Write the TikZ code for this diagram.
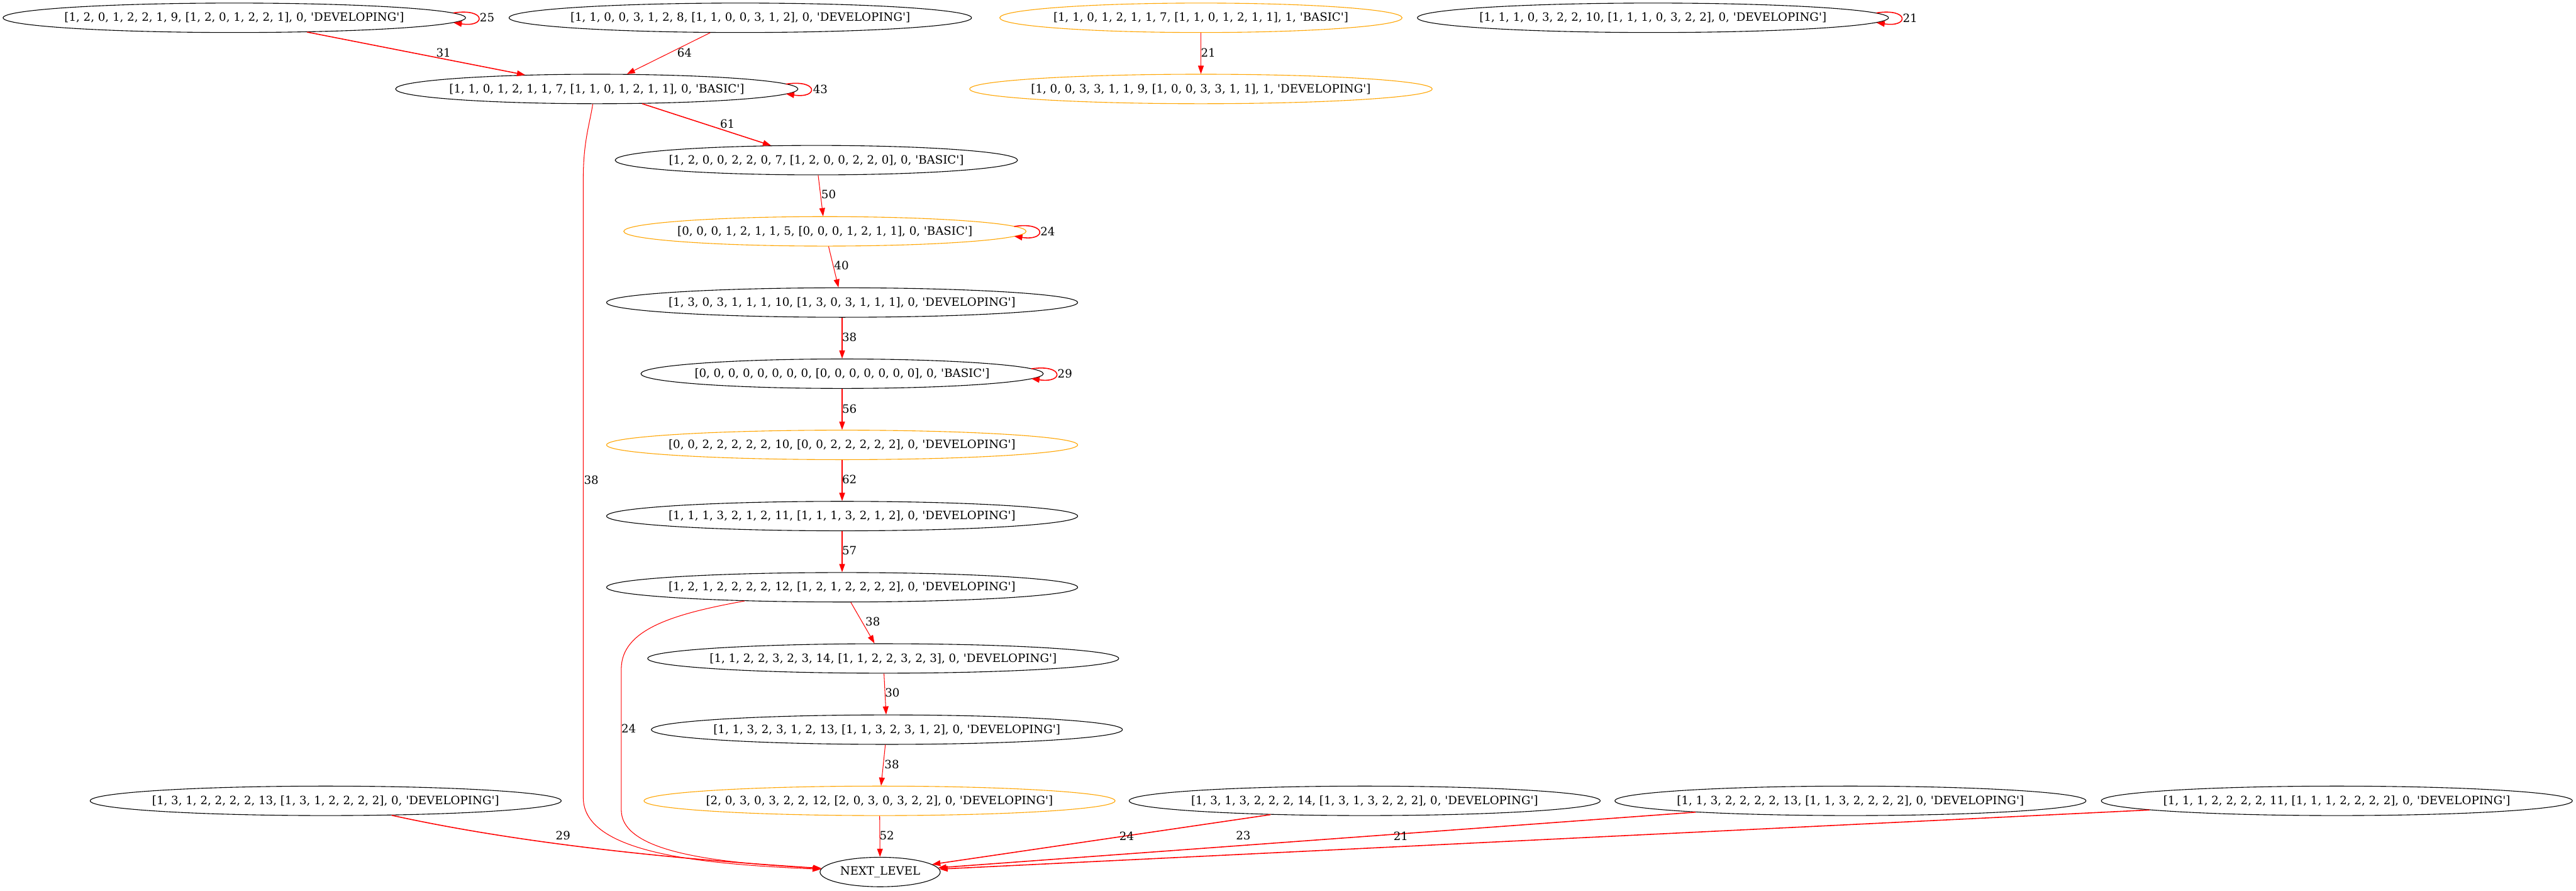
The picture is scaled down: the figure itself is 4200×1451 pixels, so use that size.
\documentclass[tikz,border=0pt]{standalone}
\usepackage{fontspec}
\setmainfont{DejaVu Serif}
\usetikzlibrary{arrows.meta,shapes.geometric}
\definecolor{gvorange}{HTML}{FFA500}
\definecolor{gvred}{HTML}{FF0000}
\newcommand{\gvf}{\fontsize{14}{16.8}\selectfont}
\newcommand{\sq}{\textquotesingle}
\begin{document}
\begin{tikzpicture}[x=0.75pt,y=-0.75pt,
  gv/.style={draw=black, line width=0.85pt, ellipse, inner sep=0pt, minimum height=36pt},
  wA/.style={minimum width=565.5pt},
  wB/.style={minimum width=492pt},
  wC/.style={minimum width=576pt},
  orng/.style={draw=gvorange},
  every label/.style={font=\gvf, inner sep=0pt},
  lbl/.style={font=\gvf, inner sep=0pt},
  gvthin/.style={draw=gvred, line width=0.8pt, -{Triangle[length=10pt,width=7pt]}},
  gvthick/.style={draw=gvred, line width=1.2pt, -{Triangle[length=10pt,width=7pt]}}
]
\fill[white] (0,0) rectangle (4200,1451);
\useasboundingbox (0,0) rectangle (4200,1451);

% nodes
\node[gv,wA,label={center:{[1, 2, 0, 1, 2, 2, 1, 9, [1, 2, 0, 1, 2, 2, 1], 0, \sq DEVELOPING\sq]}}] (A) at (382,29) {};
\node[gv,wA,label={center:{[1, 1, 0, 0, 3, 1, 2, 8, [1, 1, 0, 0, 3, 1, 2], 0, \sq DEVELOPING\sq]}}] (B) at (1207,29) {};
\node[gv,wB,orng,label={center:{[1, 1, 0, 1, 2, 1, 1, 7, [1, 1, 0, 1, 2, 1, 1], 1, \sq BASIC\sq]}}] (C) at (1958,29) {};
\node[gv,wA,orng,label={center:{[1, 0, 0, 3, 3, 1, 1, 9, [1, 0, 0, 3, 3, 1, 1], 1, \sq DEVELOPING\sq]}}] (D) at (1958,145) {};
\node[gv,wC,label={center:{[1, 1, 1, 0, 3, 2, 2, 10, [1, 1, 1, 0, 3, 2, 2], 0, \sq DEVELOPING\sq]}}] (E) at (2695,29) {};
\node[gv,wB,label={center:{[1, 1, 0, 1, 2, 1, 1, 7, [1, 1, 0, 1, 2, 1, 1], 0, \sq BASIC\sq]}}] (F) at (973,145) {};
\node[gv,wB,label={center:{[1, 2, 0, 0, 2, 2, 0, 7, [1, 2, 0, 0, 2, 2, 0], 0, \sq BASIC\sq]}}] (G) at (1331,261) {};
\node[gv,wB,orng,label={center:{[0, 0, 0, 1, 2, 1, 1, 5, [0, 0, 0, 1, 2, 1, 1], 0, \sq BASIC\sq]}}] (H) at (1345,377) {};
\node[gv,wC,label={center:{[1, 3, 0, 3, 1, 1, 1, 10, [1, 3, 0, 3, 1, 1, 1], 0, \sq DEVELOPING\sq]}}] (I) at (1373,493) {};
\node[gv,wB,label={center:{[0, 0, 0, 0, 0, 0, 0, 0, [0, 0, 0, 0, 0, 0, 0], 0, \sq BASIC\sq]}}] (J) at (1373,609) {};
\node[gv,wC,orng,label={center:{[0, 0, 2, 2, 2, 2, 2, 10, [0, 0, 2, 2, 2, 2, 2], 0, \sq DEVELOPING\sq]}}] (K) at (1373,725) {};
\node[gv,wC,label={center:{[1, 1, 1, 3, 2, 1, 2, 11, [1, 1, 1, 3, 2, 1, 2], 0, \sq DEVELOPING\sq]}}] (L) at (1373,841) {};
\node[gv,wC,label={center:{[1, 2, 1, 2, 2, 2, 2, 12, [1, 2, 1, 2, 2, 2, 2], 0, \sq DEVELOPING\sq]}}] (M) at (1373,957) {};
\node[gv,wC,label={center:{[1, 1, 2, 2, 3, 2, 3, 14, [1, 1, 2, 2, 3, 2, 3], 0, \sq DEVELOPING\sq]}}] (N) at (1440,1073) {};
\node[gv,wC,label={center:{[1, 1, 3, 2, 3, 1, 2, 13, [1, 1, 3, 2, 3, 1, 2], 0, \sq DEVELOPING\sq]}}] (O) at (1446,1189) {};
\node[gv,wC,orng,label={center:{[2, 0, 3, 0, 3, 2, 2, 12, [2, 0, 3, 0, 3, 2, 2], 0, \sq DEVELOPING\sq]}}] (P) at (1434,1305) {};
\node[gv,minimum width=147pt,label={center:{NEXT\_LEVEL}}] (NL) at (1435,1421) {};
\node[gv,wC,label={center:{[1, 3, 1, 2, 2, 2, 2, 13, [1, 3, 1, 2, 2, 2, 2], 0, \sq DEVELOPING\sq]}}] (Q) at (531,1305) {};
\node[gv,wC,label={center:{[1, 3, 1, 3, 2, 2, 2, 14, [1, 3, 1, 3, 2, 2, 2], 0, \sq DEVELOPING\sq]}}] (R) at (2225,1305) {};
\node[gv,wC,label={center:{[1, 1, 3, 2, 2, 2, 2, 13, [1, 1, 3, 2, 2, 2, 2], 0, \sq DEVELOPING\sq]}}] (S) at (3017,1305) {};
\node[gv,wC,label={center:{[1, 1, 1, 2, 2, 2, 2, 11, [1, 1, 1, 2, 2, 2, 2], 0, \sq DEVELOPING\sq]}}] (T) at (3810,1305) {};

% self loops
\draw[gvthick] ([xshift=-15pt,yshift=6pt]A.east) .. controls +(40pt,6pt) and +(40pt,-6pt) .. ([xshift=-15pt,yshift=-6pt]A.east) node[lbl] (l25) at ([xshift=26pt]A.east) {25};
\draw[gvthick] ([xshift=-15pt,yshift=6pt]F.east) .. controls +(40pt,6pt) and +(40pt,-6pt) .. ([xshift=-15pt,yshift=-6pt]F.east) node[lbl] (l43) at ([xshift=27pt]F.east) {43};
\draw[gvthick] ([xshift=-15pt,yshift=6pt]E.east) .. controls +(40pt,6pt) and +(40pt,-6pt) .. ([xshift=-15pt,yshift=-6pt]E.east) node[lbl] (l21e) at ([xshift=26pt]E.east) {21};
\draw[gvthick] ([xshift=-15pt,yshift=6pt]H.east) .. controls +(40pt,6pt) and +(40pt,-6pt) .. ([xshift=-15pt,yshift=-6pt]H.east) node[lbl] (l24h) at ([xshift=26pt]H.east) {24};
\draw[gvthick] ([xshift=-15pt,yshift=6pt]J.east) .. controls +(40pt,6pt) and +(40pt,-6pt) .. ([xshift=-15pt,yshift=-6pt]J.east) node[lbl] (l29j) at ([xshift=26pt]J.east) {29};

% edges
\draw[gvthick] (A) -- (F) node[lbl] (l31) at (723,86) {31};
\draw[gvthin] (B) -- (F) node[lbl] (l64) at (1116,86) {64};
\draw[gvthin] (C) -- (D) node[lbl] (l21c) at (1970,86) {21};
\draw[gvthick] (F) -- (G) node[lbl] (l61) at (1186,202) {61};
\draw[gvthin] (G) -- (H) node[lbl] (l50) at (1351,317) {50};
\draw[gvthin] (H) -- (I) node[lbl] (l40) at (1372,433) {40};
\draw[gvthin] (I) -- (J) node[lbl] (l38a) at (1385,549) {38};
\draw[gvthin] (J) -- (K) node[lbl] (l56) at (1385,666) {56};
\draw[gvthin] (K) -- (L) node[lbl] (l62) at (1385,781) {62};
\draw[gvthin] (L) -- (M) node[lbl] (l57) at (1385,897) {57};
\draw[gvthin] (M) -- (N) node[lbl] (l38b) at (1423,1013) {38};
\draw[gvthin] (N) -- (O) node[lbl] (l30) at (1455,1129) {30};
\draw[gvthin] (O) -- (P) node[lbl] (l38c) at (1454,1246) {38};
\draw[gvthin] (P) -- (NL) node[lbl] (l52) at (1446,1362) {52};

\draw[gvthin] (F.255) .. controls (962,200) and (951,230) .. (951,290) -- (951,1300)
  .. controls (951,1392) and (1150,1408) .. (NL) node[lbl] (l38d) at (964,782) {38};
\draw[gvthin] (M.188) .. controls (1100,1000) and (1013,1025) .. (1013,1090) -- (1013,1320)
  .. controls (1013,1392) and (1180,1406) .. (NL) node[lbl] (l24m) at (1025,1187) {24};

\draw[gvthick] (Q) .. controls (850,1375) and (1100,1400) .. (NL) node[lbl] (l29q) at (918,1362) {29};
\draw[gvthick] (R) -- (NL) node[lbl] (l24r) at (1837,1362) {24};
\draw[gvthick] (S) -- (NL) node[lbl] (l23) at (2027,1362) {23};
\draw[gvthick] (T) -- (NL) node[lbl] (l21t) at (2284,1362) {21};
\end{tikzpicture}
\end{document}
